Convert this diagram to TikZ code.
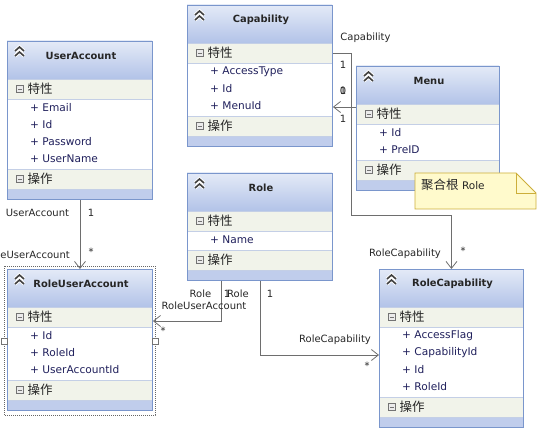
\documentclass[tikz,border=0pt]{standalone}
\usepackage{fontspec}
\setmainfont{DejaVu Sans}
\newfontfamily\cjk{Noto Sans CJK SC}
\usepackage{tikz}
\usetikzlibrary{arrows.meta}
\definecolor{boxline}{RGB}{122,150,204}
\definecolor{hdtop}{RGB}{228,234,247}
\definecolor{hdbot}{RGB}{178,195,232}
\definecolor{rowfill}{RGB}{241,243,234}
\definecolor{sepline}{RGB}{196,207,230}
\definecolor{barfill}{RGB}{192,205,236}
\definecolor{attrcol}{RGB}{32,32,92}
\definecolor{labelcol}{RGB}{38,38,38}
\definecolor{notefill}{RGB}{255,250,204}
\definecolor{noteline}{RGB}{204,174,58}
\definecolor{connline}{RGB}{110,110,110}

% #1 name, #2 top left, #3 width, #4 title, #5 number of attributes, #6 attributes
\newcommand{\umlclass}[6]{%
  \pgfmathsetmacro{\clsh}{90+17*#5}
  \pgfmathsetmacro{\clsa}{60+17*#5}
  \begin{scope}[shift={#2}]
    \fill[white] (0,0) rectangle (#3,\clsh);
    \shade[top color=hdtop, bottom color=hdbot] (0,0) rectangle (#3,38);
    \fill[rowfill] (0,38) rectangle (#3,58);
    \fill[rowfill] (0,\clsa) rectangle (#3,\clsa+20);
    \fill[barfill] (0,\clsa+20) rectangle (#3,\clsh);
    \draw[sepline] (0,38) -- (#3,38) (0,58) -- (#3,58) (0,\clsa) -- (#3,\clsa) (0,\clsa+20) -- (#3,\clsa+20);
    \draw[white, line width=3.4bp] (8,10) -- (12.5,6) -- (17,10) (8,15) -- (12.5,11) -- (17,15);
    \draw[chevron] (8,10) -- (12.5,6) -- (17,10) (8,15) -- (12.5,11) -- (17,15);
    \node[titletext] (#1-title) at (#3/2+1.5,15) {#4};
    \draw[minusicon] (9.5,44.5) rectangle (16.5,51.5) (11,48) -- (15,48);
    \node[cjktext, anchor=west] (#1-props) at (20.5,48) {特性};
    \foreach \attr [count=\k] in {#6}
      \node[attrtext, anchor=west] (#1-attr\k) at (23,50+17*\k) {+ \attr};
    \draw[minusicon] (9.5,\clsa+6.5) rectangle (16.5,\clsa+13.5) (11,\clsa+10) -- (15,\clsa+10);
    \node[cjktext, anchor=west] (#1-ops) at (20.5,\clsa+10) {操作};
  \end{scope}
  \node[classbox, minimum width=#3bp, minimum height=\clsh bp, anchor=north west] (#1) at #2 {};
}

\begin{document}
\begin{tikzpicture}[
    x=1bp, y=-1bp,
    classbox/.style={rectangle, draw=boxline, line width=0.9bp, inner sep=0pt},
    titletext/.style={font=\bfseries\fontsize{9.9bp}{12bp}\selectfont, text=black!85},
    attrtext/.style={font=\fontsize{10.6bp}{12bp}\selectfont, text=attrcol, inner sep=0pt},
    cjktext/.style={font=\cjk\fontsize{12.5bp}{14bp}\selectfont, text=black!85, inner sep=0pt},
    minusicon/.style={draw=black!55, fill=black!8, line width=0.7bp},
    chevron/.style={draw=black!75, line width=1.6bp},
    lbl/.style={font=\fontsize{10bp}{12bp}\selectfont, text=labelcol, inner sep=0pt},
    conn/.style={draw=connline, line width=0.8bp, -{Straight Barb[length=7bp, width=11bp]}}
]
    \useasboundingbox (0,0) rectangle (537,434);

    \umlclass{useracct}{(7,41)}{145}{UserAccount}{4}{Email, Id, Password, UserName}
    \umlclass{capab}{(187,5)}{145}{Capability}{3}{AccessType, Id, MenuId}
    \umlclass{menu}{(356,66)}{143}{Menu}{2}{Id, PreID}
    \umlclass{role}{(187,173)}{145}{Role}{1}{Name}
    \umlclass{roleuser}{(7,269)}{145}{RoleUserAccount}{3}{Id, RoleId, UserAccountId}
    \umlclass{rolecap}{(379,269)}{144}{RoleCapability}{4}{AccessFlag, CapabilityId, Id, RoleId}

    % selection frame
    \draw[black!60, dash pattern=on 1bp off 1bp] (4,266) rectangle (155,415);
    \draw[black!55, fill=white] (1,338) rectangle (7,344) (152,338) rectangle (158,344);

    % note
    \filldraw[fill=notefill, draw=noteline, line width=0.9bp] (415,173) -- (516,173) -- (536,193) -- (536,209) -- (415,209) -- cycle;
    \draw[noteline, line width=0.9bp] (516,173) -- (516,193) -- (536,193);
    \node[lbl, anchor=west, font=\fontsize{10.5bp}{12bp}\selectfont] (note) at (421,185) {{\cjk\fontsize{12.5bp}{14bp}\selectfont 聚合根} Role};

    % connectors
    \draw[conn] (useracct.south) -- (roleuser.north);
    \draw[conn] ([xshift=34bp]role.south west) |- ([yshift=-52bp]roleuser.north east);
    \draw[conn] (role.south) |- ([yshift=-86bp]rolecap.north west);
    \draw[conn] ([yshift=-48bp]capab.north east) -- ++(18,0) -- ++(0,162) -| (rolecap.north);
    \draw[conn] ([yshift=-41bp]menu.north west) -- ([yshift=-41bp]menu.north west -| capab.east);

    \node[lbl] (ua-end) at (37.5,213) {UserAccount};
    \node[lbl] (ua-one) at (91,213) {1};
    \node[lbl, anchor=east] (rua-end) at (70,255) {RoleUserAccount};
    \node[lbl] (rua-many) at (91,252) {*};

    \node[lbl] (role-end) at (200.5,294) {Role};
    \node[lbl] (role-one) at (227,294) {1};
    \node[lbl] (role-end2) at (238,294) {Role};
    \node[lbl] (role-one2) at (270,294) {1};
    \node[lbl] (rua-end2) at (204,306) {RoleUserAccount};
    \node[lbl] (rua-many2) at (163,331) {*};
    \node[lbl] (rc-end) at (335,340) {RoleCapability};
    \node[lbl] (rc-many) at (367,366) {*};

    \node[lbl] (cap-end) at (365.5,38) {Capability};
    \node[lbl] (cap-one) at (343,65) {1};
    \node[lbl] (menu-zero) at (343,91) {0};
    \node[lbl] (menu-one) at (343,91) {1};
    \node[lbl] (menu-one2) at (343,119) {1};
    \node[lbl] (rc-end2) at (405,254) {RoleCapability};
    \node[lbl] (rc-many2) at (463,251) {*};
\end{tikzpicture}
\end{document}
